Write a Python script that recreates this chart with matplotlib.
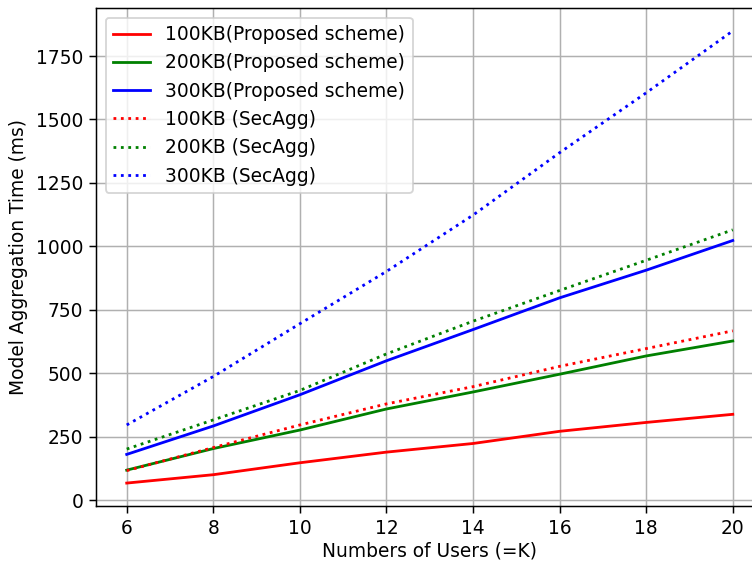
import matplotlib.pyplot as plt

users = [6, 8, 10, 12, 14, 16, 18, 20]

# proposed scheme (ms)
prop_100 = [67, 100, 147, 189, 223, 271, 306, 338]
prop_200 = [118, 203, 276, 359, 426, 496, 568, 627]
prop_300 = [180, 292, 415, 549, 672, 797, 906, 1023]

# SecAgg (ms)
sec_100 = [116, 207, 296, 379, 447, 527, 597, 667]
sec_200 = [201, 316, 432, 576, 705, 826, 945, 1065]
sec_300 = [296, 487, 695, 901, 1123, 1369, 1605, 1849]

DPI = 134
fig = plt.figure(figsize=(752 / DPI, 561 / DPI), dpi=DPI)
# the original was cropped on the right, so the axes run past the figure edge
ax = fig.add_axes([0.1282, 0.0986, 0.8865, 0.8866])

ax.plot(users, prop_100, 'r', label="100KB(Proposed scheme)")
ax.plot(users, prop_200, 'g', label="200KB(Proposed scheme)")
ax.plot(users, prop_300, 'b', label="300KB(Proposed scheme)")
ax.plot(users, sec_100, 'r:', label="100KB (SecAgg)")
ax.plot(users, sec_200, 'g:', label="200KB (SecAgg)")
ax.plot(users, sec_300, 'b:', label="300KB (SecAgg)")

ax.set_xlabel("Numbers of Users (=K)", labelpad=2)
ax.set_ylabel("Model Aggregation Time (ms)")
ax.grid(True)
ax.legend(loc="upper left")

fig.savefig("out.png", dpi=DPI)
